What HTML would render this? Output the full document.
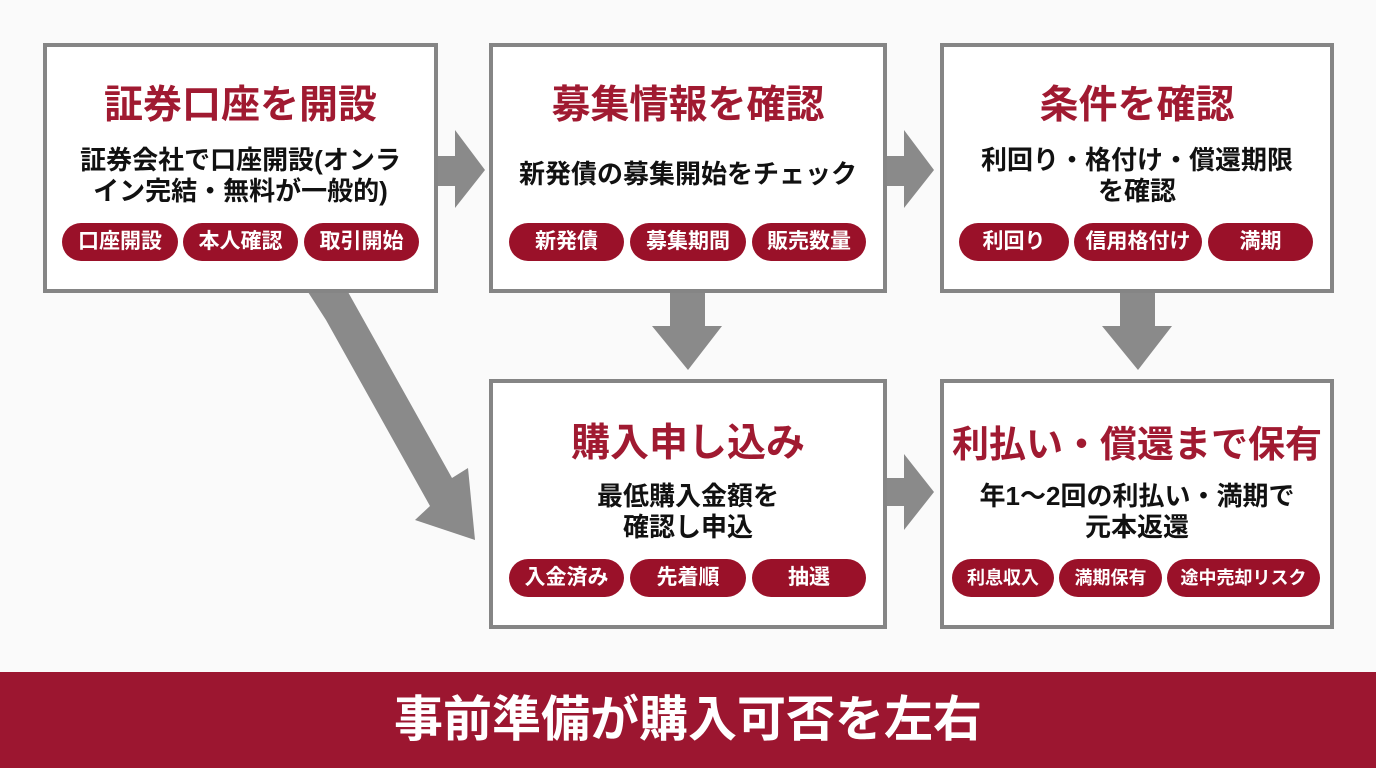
<!DOCTYPE html>
<html><head><meta charset="utf-8"><style>
body{margin:0;width:1376px;height:768px;background:#fafafa;position:relative;overflow:hidden;font-family:"Liberation Sans","Noto Sans CJK JP",sans-serif;font-weight:bold}
.box{position:absolute;border:4px solid #858585;background:#fff;box-sizing:border-box}
.t{position:absolute;left:0;right:0;text-align:center;color:#a01a31;font-size:39px;line-height:42px;white-space:nowrap}
.b{position:absolute;left:0;right:0;text-align:center;color:#111;font-size:26px;line-height:31px;white-space:nowrap}
.p{position:absolute;height:38px;line-height:38px;border-radius:19px;background:#9a1129;color:#fff;font-size:21px;text-align:center;white-space:nowrap}
.ban{position:absolute;left:0;top:672px;width:1376px;height:96px;background:#9c1630;color:#fff;font-size:49px;line-height:96px;text-align:center}
</style></head><body>
<svg width="1376" height="768" style="position:absolute;left:0;top:0">
<g fill="#8a8a8a">
<polygon points="437,156 455,156 455,130 485,170 455,208 455,186 437,186"/>
<polygon points="886,156 904,156 904,130 934,170 904,208 904,186 886,186"/>
<polygon points="886,478 904,478 904,454 934,492 904,530 904,506 886,506"/>
<polygon points="670,292 705,292 705,326 722,326 688,370 652,326 670,326"/>
<polygon points="1120,292 1155,292 1155,326 1172,326 1138,370 1102,326 1120,326"/>
<polygon points="308,292 348,292 452,478 468,468 475,540 415,520 430,506 326,320"/>
</g></svg>
<div class="box" style="left:43px;top:43px;width:395px;height:250px">
<div class="t" style="top:38px">証券口座を開設</div>
<div class="b" style="top:98px">証券会社で口座開設(オンラ<br>イン完結・無料が一般的)</div></div>
<div class="box" style="left:489px;top:43px;width:398px;height:250px">
<div class="t" style="top:38px">募集情報を確認</div>
<div class="b" style="top:112px">新発債の募集開始をチェック</div></div>
<div class="box" style="left:940px;top:43px;width:394px;height:250px">
<div class="t" style="top:38px">条件を確認</div>
<div class="b" style="top:98px">利回り・格付け・償還期限<br>を確認</div></div>
<div class="box" style="left:489px;top:379px;width:398px;height:250px">
<div class="t" style="top:40px">購入申し込み</div>
<div class="b" style="top:98px">最低購入金額を<br>確認し申込</div></div>
<div class="box" style="left:940px;top:379px;width:394px;height:250px">
<div class="t" style="top:41px;font-size:37px">利払い・償還まで保有</div>
<div class="b" style="top:98px">年1～2回の利払い・満期で<br>元本返還</div></div>
<div class="p" style="left:62px;top:223px;width:116px">口座開設</div>
<div class="p" style="left:183px;top:223px;width:115px">本人確認</div>
<div class="p" style="left:304px;top:223px;width:115px">取引開始</div>
<div class="p" style="left:509px;top:223px;width:115px">新発債</div>
<div class="p" style="left:630px;top:223px;width:116px">募集期間</div>
<div class="p" style="left:752px;top:223px;width:114px">販売数量</div>
<div class="p" style="left:959px;top:223px;width:110px">利回り</div>
<div class="p" style="left:1074px;top:223px;width:128px">信用格付け</div>
<div class="p" style="left:1208px;top:223px;width:105px">満期</div>
<div class="p" style="left:509px;top:559px;width:115px">入金済み</div>
<div class="p" style="left:630px;top:559px;width:116px">先着順</div>
<div class="p" style="left:752px;top:559px;width:114px">抽選</div>
<div class="p" style="left:952px;top:559px;width:102px;font-size:18px">利息収入</div>
<div class="p" style="left:1059px;top:559px;width:103px;font-size:18px">満期保有</div>
<div class="p" style="left:1167px;top:559px;width:153px;font-size:18px">途中売却リスク</div>
<div class="ban">事前準備が購入可否を左右</div>
</body></html>
